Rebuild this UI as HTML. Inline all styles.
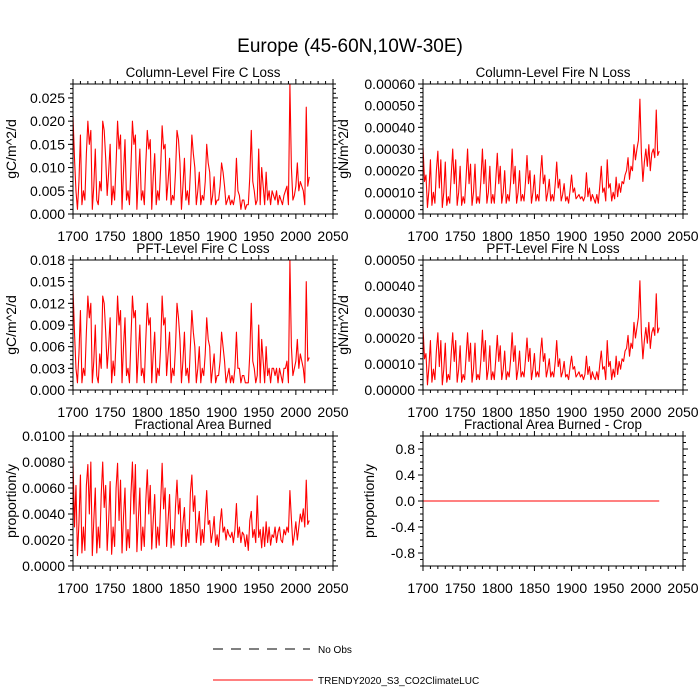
<!DOCTYPE html>
<html><head><meta charset="utf-8">
<style>
html,body{margin:0;padding:0;background:#fff;}
svg{display:block;font-family:"Liberation Sans",Arial,sans-serif;}
</style></head>
<body>
<svg id="chart" width="700" height="700" viewBox="0 0 700 700" xmlns="http://www.w3.org/2000/svg">
<rect x="0" y="0" width="700" height="700" fill="#fff"/>
<text x="350" y="52" font-size="19" text-anchor="middle">Europe (45-60N,10W-30E)</text>
<g>
<line x1="213" y1="649" x2="310" y2="649" stroke="#000" stroke-width="1" stroke-dasharray="10,8"/>
<text x="318" y="653" font-size="10">No Obs</text>
<line x1="213" y1="680" x2="313" y2="680" stroke="#f00" stroke-width="1"/>
<text x="318" y="684" font-size="10">TRENDY2020_S3_CO2ClimateLUC</text>
</g>
</svg>
<script>
// Years 1700..2018 step 2
const years = [];
for (let y = 1700; y <= 2018; y += 2) years.push(y);

// Column-level fire C loss (units 0.001 gC/m^2/d)
const colC = [21,12,5,1,7,17,2,5,3,13, 20,15,18,1,6,14,3,2,7,5, 20,18,12,4,9,15,2,6,3,11, 20,14,17,1,9,16,3,5,2,10,
 20,15,17,1,8,14,3,5,2,11, 18,14,16,1,8,13,2,5,3,10, 19,14,15,3,7,12,2,4,3,9, 18,16,11,1,6,12,3,5,2,9,
 17,13,10,2,5,9,2,4,3,7, 15,11,9,2,4,8,2,3,3,6, 11,9,6,2,3,4,2,3,2,4, 12,5,4,1,3,3,1,2,2,8,
 18,7,5,2,3,14,2,10,6,2, 9,3,5,2,5,4,3,5,2,4, 3,2,4,5,6,2,28,10,3,4, 6,11,5,7,6,5,2,23,6,8];
// Column-level fire N loss (units 0.00001)
const colN = [31,15,18,3,11,25,4,10,5,20, 29,12,25,3,10,24,4,8,5,18, 30,14,25,4,10,22,4,8,5,17, 30,14,23,4,10,23,5,8,5,16,
 30,14,25,5,10,22,5,9,5,16, 28,14,22,5,10,20,5,9,6,15, 30,14,22,5,10,20,6,9,6,15, 27,14,20,5,10,18,6,9,6,18,
 27,14,18,6,10,16,6,9,6,14, 24,12,16,6,9,14,6,8,5,11, 18,10,12,7,8,9,7,8,6,8, 19,8,12,6,9,7,5,9,5,13,
 22,10,12,6,25,12,14,6,10,7, 17,8,14,10,15,14,18,20,26,16, 22,20,32,25,30,34,53,28,15,24, 30,22,32,20,28,30,26,48,27,29];
// PFT-level fire C loss (units 0.001)
const pftC = [14,8,3,1,5,11,1,3,2,8, 13,10,12,1,4,9,2,1,5,3, 13,12,8,3,6,10,1,4,2,7, 13,9,11,1,6,10,2,3,1,7,
 13,10,11,1,5,9,2,3,1,7, 12,9,10,1,5,8,1,3,2,6, 13,9,10,2,5,8,1,3,2,6, 12,10,7,1,4,8,2,3,1,6,
 11,8,6,1,3,6,1,3,2,5, 10,7,6,1,3,5,1,2,2,4, 8,6,4,1,2,3,1,2,1,3, 8,3,3,1,2,2,1,1,1,5,
 12,4,3,1,2,9,1,7,4,1, 6,2,3,1,3,3,2,3,1,3, 2,1,3,3,4,1,18,6,2,3, 4,7,3,5,4,3,1,15,4,4.5];
// PFT-level fire N loss (units 0.00001)
const pftN = [24,12,14,2,9,19,3,8,4,15, 22,9,19,2,8,18,3,6,4,14, 22,11,19,3,8,17,3,6,4,13, 22,11,18,3,8,18,4,6,4,12,
 23,11,19,4,8,17,4,7,4,12, 21,11,17,4,8,15,4,7,5,12, 22,11,17,4,8,15,5,7,5,12, 20,11,16,4,8,14,5,7,5,14,
 20,11,14,5,8,12,5,7,5,11, 19,9,12,5,7,11,5,6,4,9, 13,8,9,5,6,7,5,6,4,6, 13,6,9,4,7,5,4,7,4,10,
 15,8,9,4,19,9,11,4,8,5, 13,6,11,8,12,11,15,16,21,13, 18,16,26,20,24,28,42,22,12,19, 24,18,26,16,22,24,21,37,22,24];
// Fractional area burned (units 0.0001)
const farea = [80,30,62,8,33,70,10,30,12,62, 78,40,80,8,35,60,10,30,14,55, 80,45,62,12,35,65,9,30,15,60, 79,35,66,10,38,60,12,28,14,55,
 80,40,78,11,36,60,12,30,15,50, 74,40,62,13,35,55,14,30,16,48, 79,44,60,15,35,55,14,28,16,46, 66,40,52,15,33,45,15,28,18,56,
 70,42,54,18,30,42,16,28,18,40, 58,32,35,18,26,38,16,24,15,33, 44,26,30,20,28,24,22,26,18,28, 48,22,30,18,26,24,15,24,12,35,
 42,22,28,18,54,22,28,14,30,15, 34,18,30,16,24,22,30,18,26,30, 20,18,28,24,30,26,58,36,16,24, 34,20,30,40,34,44,30,66,32,35];
// Fractional area burned - crop (all zero)
const fcrop = [0,0,0,0,0,0,0,0,0,0, 0,0,0,0,0,0,0,0,0,0, 0,0,0,0,0,0,0,0,0,0, 0,0,0,0,0,0,0,0,0,0,
 0,0,0,0,0,0,0,0,0,0, 0,0,0,0,0,0,0,0,0,0, 0,0,0,0,0,0,0,0,0,0, 0,0,0,0,0,0,0,0,0,0,
 0,0,0,0,0,0,0,0,0,0, 0,0,0,0,0,0,0,0,0,0, 0,0,0,0,0,0,0,0,0,0, 0,0,0,0,0,0,0,0,0,0,
 0,0,0,0,0,0,0,0,0,0, 0,0,0,0,0,0,0,0,0,0, 0,0,0,0,0,0,0,0,0,0, 0,0,0,0,0,0,0,0,0,0];

const xTicks = [1700,1750,1800,1850,1900,1950,2000,2050];
const ticksColC = [0,0.005,0.010,0.015,0.020,0.025];
const ticksColN = [0,0.0001,0.0002,0.0003,0.0004,0.0005,0.0006];
const ticksPftC = [0,0.003,0.006,0.009,0.012,0.015,0.018];
const ticksPftN = [0,0.0001,0.0002,0.0003,0.0004,0.0005];
const ticksArea = [0,0.002,0.004,0.006,0.008,0.010];
const ticksCrop = [-0.8,-0.4,0.0,0.4,0.8];

const NS = "http://www.w3.org/2000/svg";
const svg = document.getElementById('chart');
function mk(tag, attrs, parent){
  const e = document.createElementNS(NS, tag);
  for (const k in attrs) e.setAttribute(k, attrs[k]);
  (parent||svg).appendChild(e);
  return e;
}

const panels = [
 {name:'column-fire-c-loss', title:'Column-Level Fire C Loss', ylab:'gC/m^2/d', x0:73, y0:84, data:colC, scale:0.001, ymin:0, ymax:0.028, ticks:ticksColC, minor:0.001, dec:3},
 {name:'column-fire-n-loss', title:'Column-Level Fire N Loss', ylab:'gN/m^2/d', x0:423, y0:84, data:colN, scale:0.00001, ymin:0, ymax:0.0006, ticks:ticksColN, minor:0.00002, dec:5},
 {name:'pft-fire-c-loss', title:'PFT-Level Fire C Loss', ylab:'gC/m^2/d', x0:73, y0:260, data:pftC, scale:0.001, ymin:0, ymax:0.018, ticks:ticksPftC, minor:0.0006, dec:3},
 {name:'pft-fire-n-loss', title:'PFT-Level Fire N Loss', ylab:'gN/m^2/d', x0:423, y0:260, data:pftN, scale:0.00001, ymin:0, ymax:0.0005, ticks:ticksPftN, minor:0.00002, dec:5},
 {name:'fractional-area-burned', title:'Fractional Area Burned', ylab:'proportion/y', x0:73, y0:436, data:farea, scale:0.0001, ymin:0, ymax:0.010, ticks:ticksArea, minor:0.0004, dec:4},
 {name:'fractional-area-burned-crop', title:'Fractional Area Burned - Crop', ylab:'proportion/y', x0:423, y0:436, data:fcrop, scale:1, ymin:-1, ymax:1, ticks:ticksCrop, minor:0.1, dec:1},
];
const W = 260, H = 130;

panels.forEach(p => {
  const g = mk('g', {});
  
  
  const xs = v => p.x0 + (v - 1700) / 350 * W;
  const ys = v => p.y0 + H - (v - p.ymin) / (p.ymax - p.ymin) * H;
  const bot = p.y0 + H, right = p.x0 + W;

  for (let yr = 1700; yr <= 2050; yr += 10) {
    const len = (yr % 50 === 0) ? 5 : 3;
    const x = xs(yr);
    const t1 = mk('line', {x1:x, y1:bot, x2:x, y2:bot+len, stroke:'#000', 'stroke-width':1}, g);
    
    
    const t2 = mk('line', {x1:x, y1:p.y0, x2:x, y2:p.y0-len, stroke:'#000', 'stroke-width':1}, g);
    
    
  }
  xTicks.forEach(v => {
    const t = mk('text', {x:xs(v), y:bot+27, 'font-size':14, 'text-anchor':'middle'}, g);
    t.textContent = v;
    
    
  });
  const nMinor = Math.round((p.ymax - p.ymin) / p.minor);
  for (let i = 0; i <= nMinor; i++) {
    const v = p.ymin + i * p.minor;
    const y = ys(v);
    const a = mk('line', {x1:p.x0, y1:y, x2:p.x0-3, y2:y, stroke:'#000', 'stroke-width':1}, g);
    
    
    const b = mk('line', {x1:right, y1:y, x2:right+3, y2:y, stroke:'#000', 'stroke-width':1}, g);
    
    
  }
  p.ticks.forEach(v => {
    const y = ys(v);
    const a = mk('line', {x1:p.x0, y1:y, x2:p.x0-5, y2:y, stroke:'#000', 'stroke-width':1}, g);
    
    
    const b = mk('line', {x1:right, y1:y, x2:right+5, y2:y, stroke:'#000', 'stroke-width':1}, g);
    
    
    const t = mk('text', {x:p.x0-8, y:y+5, 'font-size':14, 'text-anchor':'end'}, g);
    t.textContent = v.toFixed(p.dec);
    
    
  });
  const pts = p.data.map((d, i) => xs(years[i]).toFixed(2) + ',' + ys(d * p.scale).toFixed(2)).join(' ');
  const line = mk('polyline', {points:pts, fill:'none', stroke:'#f00', 'stroke-width':1.1, 'stroke-linejoin':'round'}, g);
  
  
  const fr = mk('rect', {x:p.x0, y:p.y0, width:W, height:H, fill:'none', stroke:'#000', 'stroke-width':1}, g);
  
  
  const tt = mk('text', {x:p.x0 + W/2, y:p.y0 - 7, 'font-size':13.4, 'text-anchor':'middle'}, g);
  tt.textContent = p.title;
  
  
  const lxpos = (p.x0 > 300) ? (p.ylab === 'proportion/y' ? 374 : 348) : 16;
  const yl = mk('text', {x:0, y:0, 'font-size':14, 'text-anchor':'middle', transform:'translate(' + lxpos + ',' + (p.y0 + H/2) + ') rotate(-90)'}, g);
  yl.textContent = p.ylab;
  
  
});
</script>
</body></html>
